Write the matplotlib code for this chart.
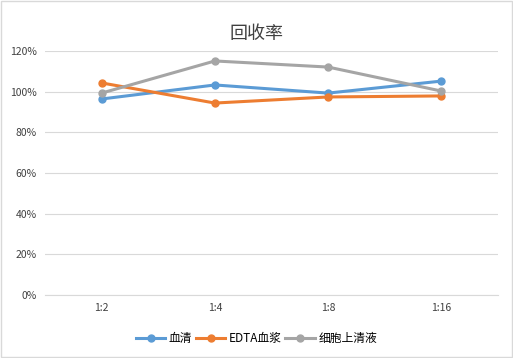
import matplotlib.pyplot as plt
from matplotlib.ticker import PercentFormatter

plt.rcParams['font.family'] = ['Noto Sans CJK SC', 'DejaVu Sans']

# === DONNEES ===
categories = ["1:2", "1:4", "1:8", "1:16"]
serum = [96.4, 103.3, 99.3, 105.2]
edta = [104.3, 94.4, 97.4, 97.9]
supernatant = [99.3, 115.1, 112.1, 100.3]
series_names = ["血清", "EDTA血浆", "细胞上清液"]
colors = ["#5B9BD5", "#ED7D31", "#A5A5A5"]

# === FIGURE ===
fig = plt.figure(figsize=(5.13, 3.58), dpi=100)
ax = fig.add_axes([45 / 513, 63 / 358, 453 / 513, 244 / 358])

x = range(len(categories))
for vals, name, c in zip([serum, edta, supernatant], series_names, colors):
    ax.plot(x, vals, color=c, lw=2.2, marker="o", ms=5, label=name)

ax.set_ylim(0, 120)
ax.set_yticks(range(0, 121, 20))
ax.yaxis.set_major_formatter(PercentFormatter(decimals=0))
ax.set_xlim(-0.5, len(categories) - 0.5)
ax.set_xticks(list(x))
ax.set_xticklabels(categories)
ax.grid(axis="y", color="#D9D9D9", lw=0.8)
ax.set_axisbelow(True)
for s in ["top", "right", "left"]:
    ax.spines[s].set_visible(False)
ax.spines["bottom"].set_color("#D9D9D9")
ax.tick_params(length=0, labelsize=7.5, colors="#404040", pad=6)

fig.text(0.5, 0.905, "回收率", ha="center", va="center", fontsize=13, color="#404040")
fig.legend(loc="center", bbox_to_anchor=(0.5, 0.055), ncol=3, frameon=False,
           fontsize=8.5, handlelength=2.5, columnspacing=0.3, handletextpad=0.3)

fig.patches.append(plt.Rectangle((0.002, 0.003), 0.996, 0.994, transform=fig.transFigure,
                                 fill=False, edgecolor="#D9D9D9", lw=1))

fig.savefig("out.png", dpi=100)
